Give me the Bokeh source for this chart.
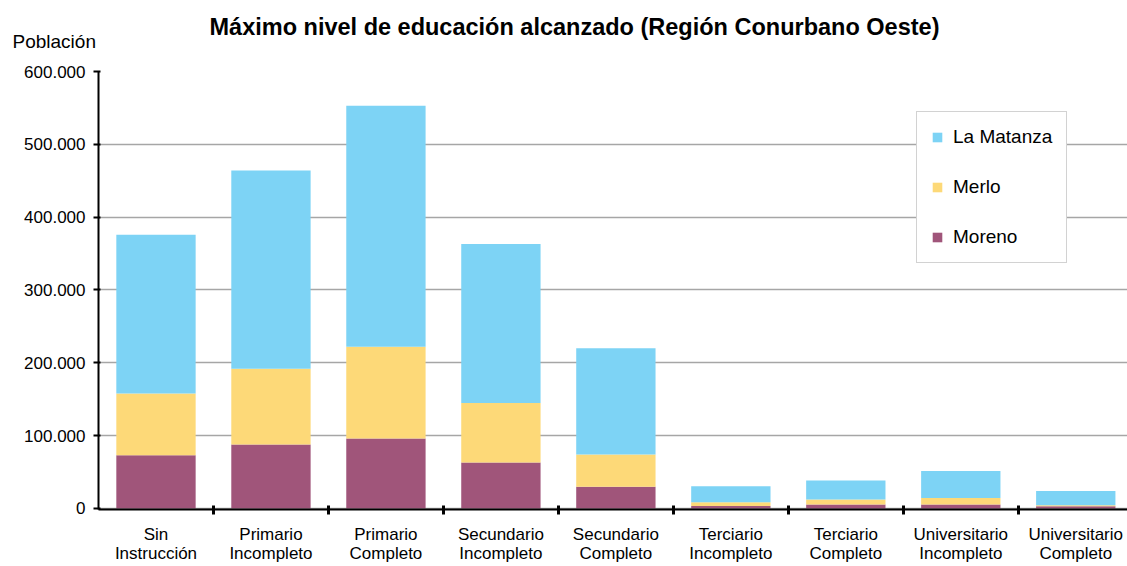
from bokeh.plotting import figure
from bokeh.layouts import column
from bokeh.models import (Range1d, FixedTicker, CustomJSTickFormatter, Legend, LegendItem,
                          Label, ColumnDataSource)
from bokeh.embed import file_html
from bokeh.resources import INLINE

categories = ["Sin\nInstrucción", "Primario\nIncompleto", "Primario\nCompleto",
              "Secundario\nIncompleto", "Secundario\nCompleto", "Terciario\nIncompleto",
              "Terciario\nCompleto", "Universitario\nIncompleto", "Universitario\nCompleto"]
moreno = [73000, 88000, 96000, 63000, 30000, 3500, 5500, 5500, 3000]
merlo = [85000, 104000, 126000, 82000, 44000, 5000, 7000, 9000, 1500]
la_matanza = [218000, 272000, 331000, 218000, 146000, 22000, 26000, 37000, 19500]
y_ticks = [0, 100000, 200000, 300000, 400000, 500000, 600000]
title_text = "Máximo nivel de educación alcanzado (Región Conurbano Oeste)"
y_caption = "Población"

colors = {"Moreno": "#A0557A", "Merlo": "#FDD978", "La Matanza": "#7DD3F5"}
FONT = "Liberation Sans"
W, HEAD_H, H = 1127, 56, 566

# ---- header strip with title and y caption (pixel coordinates) ----
head = figure(width=W, height=HEAD_H, output_backend="svg", toolbar_location=None, title=None,
              x_range=Range1d(0, W), y_range=Range1d(HEAD_H, 0),
              min_border=0, min_border_left=0, min_border_right=0,
              min_border_top=0, min_border_bottom=0)
head.axis.visible = False
head.grid.visible = False
head.outline_line_color = None
head.add_layout(Label(x=574, y=26, text=title_text, text_font=FONT, text_font_size="23.5px",
                      text_font_style="bold", text_align="center", text_baseline="middle",
                      text_color="black"))
head.add_layout(Label(x=12, y=41, text=y_caption, text_font=FONT, text_font_size="19px",
                      text_align="left", text_baseline="middle", text_color="black"))

# ---- main chart ----
xs = list(range(1, len(categories) + 1))
src = ColumnDataSource(dict(x=xs, Moreno=moreno, Merlo=merlo, **{"La Matanza": la_matanza}))

p = figure(width=W, height=H - HEAD_H, output_backend="svg", toolbar_location=None, title=None,
           x_range=Range1d(0.5, 9.45), y_range=Range1d(-1400, 600000),
           min_border_left=98, min_border_right=0, min_border_top=15, min_border_bottom=57)
p.outline_line_color = None
p.background_fill_color = "white"

rs = p.vbar_stack(["Moreno", "Merlo", "La Matanza"], x="x", width=0.69, source=src,
                  color=[colors["Moreno"], colors["Merlo"], colors["La Matanza"]],
                  line_color=None)

# grid
p.xgrid.visible = False
p.ygrid.ticker = FixedTicker(ticks=y_ticks)
p.ygrid.grid_line_color = "#A6A6A6"
p.ygrid.grid_line_width = 1.5

# y axis
p.yaxis.ticker = FixedTicker(ticks=y_ticks)
p.yaxis.formatter = CustomJSTickFormatter(code="""
    return Math.round(tick).toString().replace(/\\B(?=(\\d{3})+(?!\\d))/g, '.');
""")
p.yaxis.axis_line_color = "black"
p.yaxis.axis_line_width = 2
p.yaxis.major_tick_line_color = "black"
p.yaxis.major_tick_line_width = 2
p.yaxis.major_tick_in = 2
p.yaxis.major_tick_out = 5
p.yaxis.minor_tick_line_color = None
p.yaxis.major_label_text_font = FONT
p.yaxis.major_label_text_font_size = "17px"
p.yaxis.major_label_text_color = "black"
p.yaxis.major_label_standoff = 8

# x axis
p.xaxis.ticker = FixedTicker(ticks=xs, minor_ticks=[1.5, 2.5, 3.5, 4.5, 5.5, 6.5, 7.5, 8.5])
p.xaxis.major_label_overrides = {x: c for x, c in zip(xs, categories)}
p.xaxis.axis_line_color = "black"
p.xaxis.axis_line_width = 2
p.xaxis.major_tick_line_color = None
p.xaxis.major_tick_in = 0
p.xaxis.major_tick_out = 0
p.xaxis.minor_tick_line_color = "black"
p.xaxis.minor_tick_line_width = 3
p.xaxis.minor_tick_in = 4
p.xaxis.minor_tick_out = 5
p.xaxis.major_label_text_font = FONT
p.xaxis.major_label_text_font_size = "17px"
p.xaxis.major_label_text_color = "black"
p.xaxis.major_label_text_line_height = 1.05
p.xaxis.major_label_standoff = 10

# legend
legend = Legend(items=[LegendItem(label="La Matanza", renderers=[rs[2]]),
                       LegendItem(label="Merlo", renderers=[rs[1]]),
                       LegendItem(label="Moreno", renderers=[rs[0]])],
                location=(818, 246), orientation="vertical",
                border_line_color="#A6A6A6", border_line_width=1.5,
                padding=14, spacing=28, margin=0,
                glyph_height=12, glyph_width=12, label_height=20, label_standoff=10,
                label_text_font=FONT, label_text_font_size="19px",
                label_text_color="black", label_text_baseline="middle",
                background_fill_color="white", background_fill_alpha=1.0)
p.add_layout(legend)

# keep each figure's frame independent inside the column
for f in (head, p):
    if "frame_align" in f.properties():
        f.frame_align = False

layout = column(head, p, spacing=0)
open("out.html", "w").write(file_html(layout, INLINE))
